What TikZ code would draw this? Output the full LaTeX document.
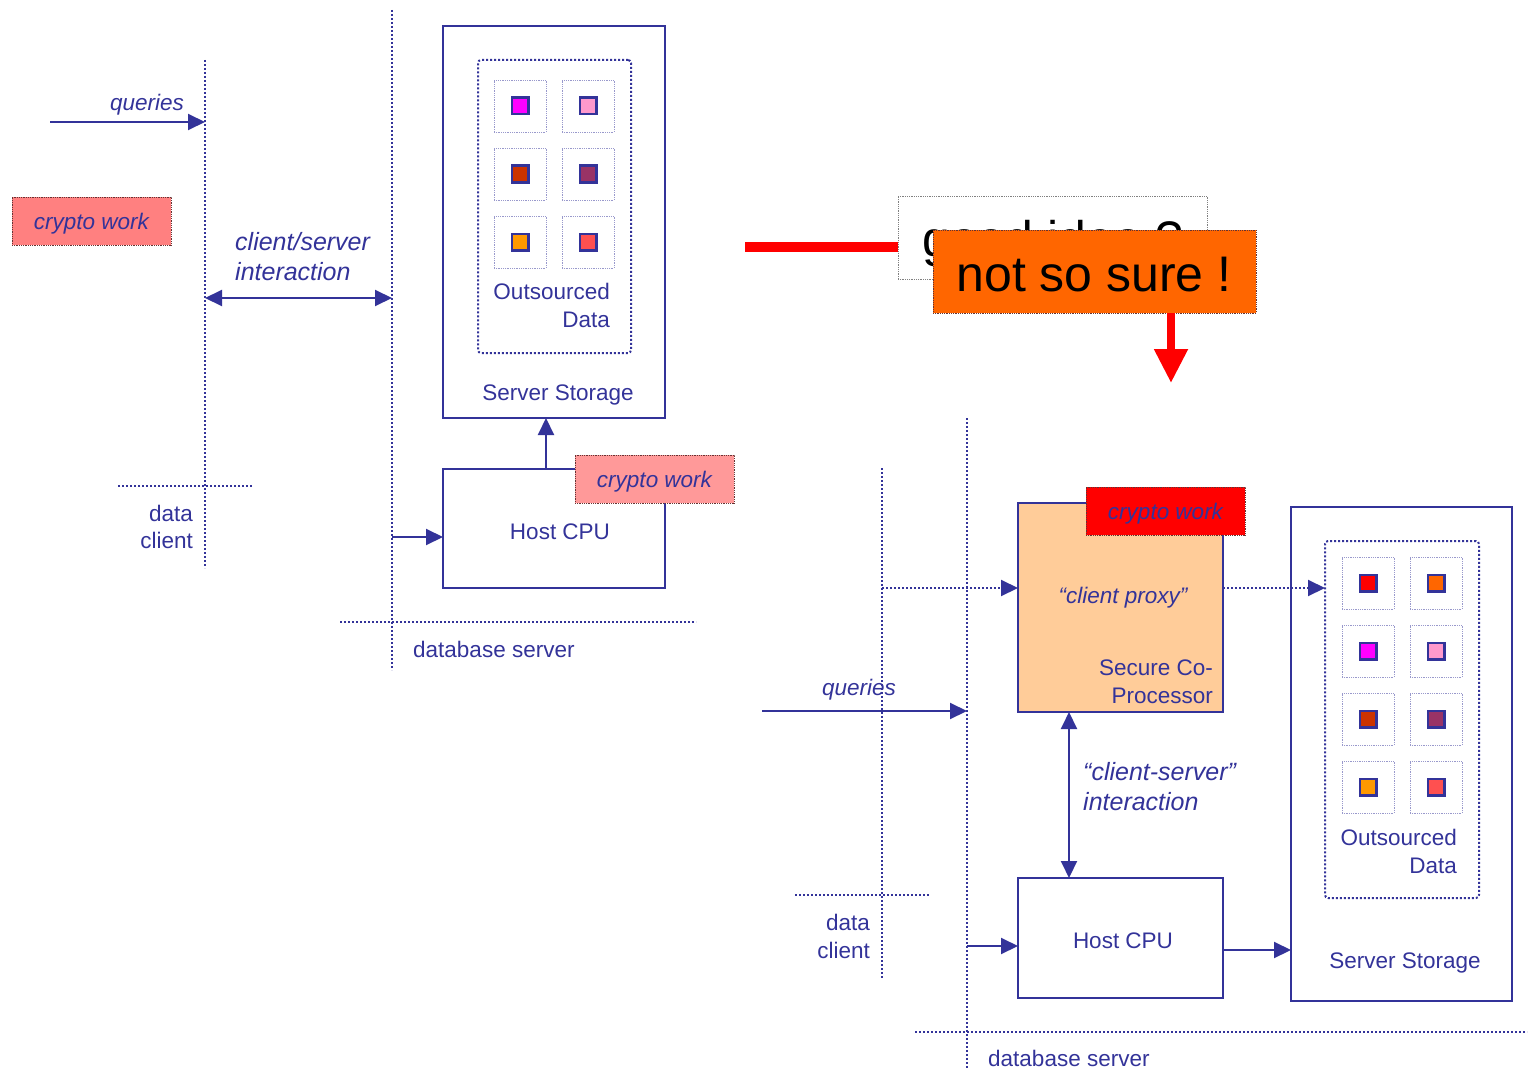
\documentclass[tikz,border=0pt]{standalone}
\usepackage{fontspec}
\setmainfont{Liberation Sans}
\usetikzlibrary{arrows.meta}
\definecolor{ink}{HTML}{333399}
\definecolor{cellrim}{HTML}{9999CC}
\definecolor{salmon}{HTML}{FF8080}
\definecolor{salmonlt}{HTML}{FF9999}
\definecolor{peach}{HTML}{FFCC99}
\definecolor{hotorange}{HTML}{FF6600}
\definecolor{rimdark}{HTML}{663333}
\definecolor{sqRed}{HTML}{FF0000}
\definecolor{sqOrange}{HTML}{FF6600}
\definecolor{sqMag}{HTML}{FF00FF}
\definecolor{sqPink}{HTML}{FF99CC}
\definecolor{sqRust}{HTML}{CC3300}
\definecolor{sqPlum}{HTML}{993366}
\definecolor{sqAmber}{HTML}{FF9900}
\definecolor{sqCoral}{HTML}{FF5050}
\tikzset{
  box/.style={draw=ink, line width=2pt, inner sep=0pt, outer sep=0pt, anchor=north west},
  datastore/.style={draw=ink, line width=2pt, dotted, rounded corners=3pt, inner sep=0pt, outer sep=0pt, anchor=north west},
  tag/.style={draw=rimdark, line width=0.8pt, densely dotted, inner sep=0pt, outer sep=0pt, anchor=north west,
              minimum width=159pt, minimum height=48pt, text=ink, text height=19pt, text depth=2pt,
              font=\fontsize{22.5}{27}\selectfont\itshape},
  cell/.style={draw=cellrim, line width=0.8pt, densely dotted, minimum size=52pt, inner sep=0pt},
  chip/.style={draw=ink, line width=2.5pt, minimum size=16.5pt, inner sep=0pt},
  fence/.style={draw=ink, line width=2pt, dotted},
  arr/.style={draw=ink, line width=2pt, -{Triangle[length=17pt,width=16pt]}},
  darr/.style={draw=ink, line width=2pt, {Triangle[length=17pt,width=16pt]}-{Triangle[length=17pt,width=16pt]}},
  lbl/.style={text=ink, inner sep=0pt, font=\fontsize{22.5}{27.5}\selectfont},
  ilbl/.style={text=ink, inner sep=0pt, font=\fontsize{25}{30}\selectfont\itshape},
  big/.style={text=black, inner sep=0pt, font=\fontsize{50}{60}\selectfont},
}
\begin{document}
\begin{tikzpicture}[x=1pt, y=-1pt]
\useasboundingbox (0,0) rectangle (1529,1070);

% ---------- conventional set-up: crypto at the client ----------
\draw[fence] (205,60) -- (205,568);
\draw[fence] (392,10) -- (392,670);
\draw[fence] (118,486) -- (253,486);
\draw[fence] (340,622) -- (696,622);

\node[box, minimum width=222pt, minimum height=392pt] (stor) at (443,26) {};
\node[datastore, minimum width=153pt, minimum height=293pt] (odata) at (478,60) {};
\foreach \col/\row/\clr in {0/0/sqMag,1/0/sqPink,0/1/sqRust,1/1/sqPlum,0/2/sqAmber,1/2/sqCoral} {
  \node[cell] (lc\col\row) at (520+68*\col, 106+68*\row) {};
  \node[chip, fill=\clr] (lq\col\row) at (lc\col\row) {};
}
\node[lbl, align=right, anchor=east] (odlbl) at (610,305.5) {Outsourced\\Data};
\node[lbl, anchor=base] (storlbl) at (558,400) {Server Storage};

\node[box, minimum width=222pt, minimum height=119pt] (cpu) at (443,469) {};
\node[lbl, anchor=base] (cpulbl) at (560,539) {Host CPU};
\node[tag, fill=salmonlt] (cw2) at (575,455) {crypto work};

\coordinate (upx) at (546,440);
\draw[arr] (upx |- cpu.north) -- (upx |- stor.south);
\coordinate (cin) at (392,537);
\draw[arr] (cin) -- (cin -| cpu.west);

\coordinate (q1) at (50,122);
\coordinate (q1end) at (205,122);
\draw[arr] (q1) -- (q1end);
\node[lbl, anchor=base east, font=\fontsize{22.5}{27}\selectfont\itshape] (q1lbl) at (184,111) {queries};

\coordinate (csl) at (205,298);
\coordinate (csr) at (392,298);
\draw[darr] (csl) -- (csr);
\node[ilbl, align=left, anchor=west] (cslbl) at (235,256.5) {client/server\\interaction};

\node[tag, fill=salmon] (cw1) at (12,197) {crypto work};

\node[lbl, align=right, anchor=east] (dc1) at (193,527) {data\\client};
\node[lbl, anchor=base west] (db1) at (413,657) {database server};

% ---------- remark ----------
\node[draw=gray, line width=0.8pt, densely dotted, inner sep=0pt, outer sep=0pt, anchor=north west,
      minimum width=309pt, minimum height=83pt] (idea) at (898,196) {};
\coordinate (bar) at (745,247);
\draw[red, line width=10pt] (bar) -- (bar -| idea.west);
\node[big, anchor=base] (ideatxt) at (1053,256) {good idea ?};
\node[draw=rimdark, line width=0.8pt, densely dotted, fill=hotorange, inner sep=0pt, outer sep=0pt,
      anchor=north west, minimum width=323pt, minimum height=83pt] (sure) at (933,230) {};
\node[big, anchor=base] (suretxt) at (1094,291) {not so sure !};
\coordinate (drop) at (1171,383);
\draw[red, line width=8pt, -{Triangle[length=34pt,width=32pt]}] (drop |- sure.south) -- (drop);

% ---------- secure co-processor set-up ----------
\draw[fence] (967,418) -- (967,1068);
\draw[fence] (882,468) -- (882,978);
\draw[fence] (795,895) -- (930,895);
\draw[fence] (915,1032) -- (1527,1032);

\node[box, fill=peach, minimum width=205pt, minimum height=209pt] (scp) at (1018,503) {};
\node[lbl, anchor=base, font=\fontsize{22.5}{27}\selectfont\itshape] (proxy) at (1123,603) {``client proxy''};
\node[lbl, align=right, anchor=east] (scplbl) at (1213,681.5) {Secure Co-\\Processor};
\node[tag, fill=sqRed] (cw3) at (1086,487) {crypto work};

\node[box, minimum width=221pt, minimum height=494pt] (stor2) at (1291,507) {};
\node[datastore, minimum width=154pt, minimum height=357pt] (odata2) at (1325,541) {};
\foreach \col/\row/\clr in {0/0/sqRed,1/0/sqOrange,0/1/sqMag,1/1/sqPink,0/2/sqRust,1/2/sqPlum,0/3/sqAmber,1/3/sqCoral} {
  \node[cell] (rc\col\row) at (1368+68*\col, 583+68*\row) {};
  \node[chip, fill=\clr] (rq\col\row) at (rc\col\row) {};
}
\node[lbl, align=right, anchor=east] (odlbl2) at (1457,851.5) {Outsourced\\Data};
\node[lbl, anchor=base] (storlbl2) at (1405,968) {Server Storage};

\node[box, minimum width=205pt, minimum height=120pt] (cpu2) at (1018,878) {};
\node[lbl, anchor=base] (cpulbl2) at (1123,948) {Host CPU};

\coordinate (pin) at (882,588);
\draw[fence, -{Triangle[length=17pt,width=16pt]}] (pin) -- (pin -| scp.west);
\draw[fence, -{Triangle[length=17pt,width=16pt]}] (pin -| scp.east) -- (pin -| odata2.west);

\coordinate (q2) at (762,711);
\coordinate (q2end) at (967,711);
\draw[arr] (q2) -- (q2end);
\node[lbl, anchor=base west, font=\fontsize{22.5}{27}\selectfont\itshape] (q2lbl) at (822,695) {queries};

\coordinate (vx) at (1069,800);
\draw[darr] (vx |- scp.south) -- (vx |- cpu2.north);
\node[ilbl, align=left, anchor=west] (cslbl2) at (1083,787) {``client-server''\\interaction};

\coordinate (cin2) at (967,946);
\draw[arr] (cin2) -- (cin2 -| cpu2.west);
\coordinate (cout2) at (1223,950);
\draw[arr] (cout2) -- (cout2 -| stor2.west);

\node[lbl, align=right, anchor=east] (dc2) at (870,936.5) {data\\client};
\node[lbl, anchor=base west] (db2) at (988,1066) {database server};
\end{tikzpicture}
\end{document}
